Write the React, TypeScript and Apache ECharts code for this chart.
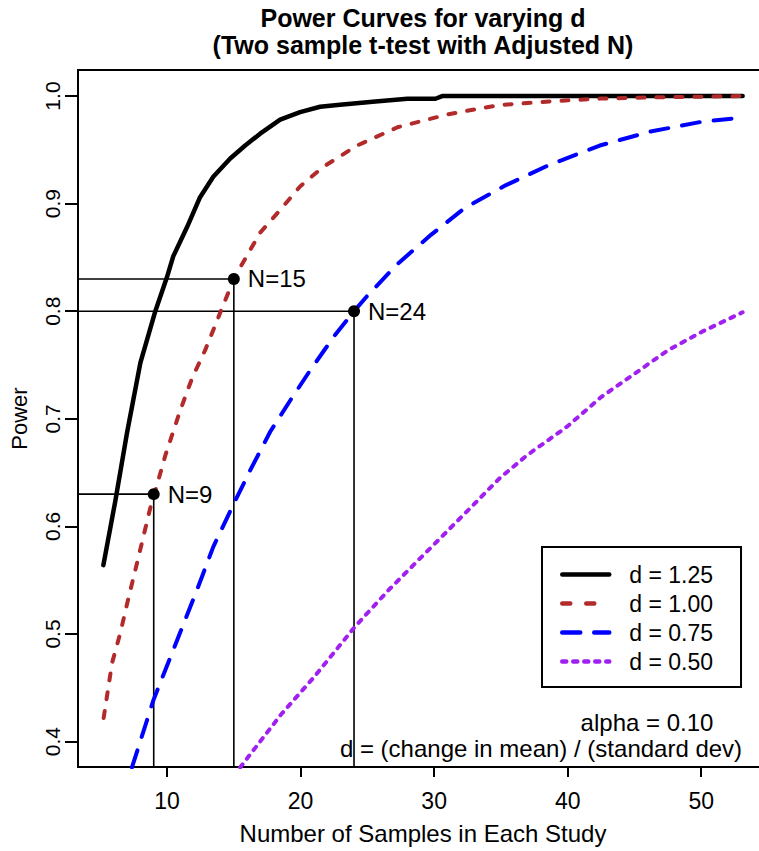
import React, { useEffect, useRef } from "react";
import * as echarts from "echarts";

// Axis extents (R style 4% expansion) and tick values
const X_MIN = 3.33;
const X_MAX = 55.0;
const Y_MIN = 0.3764;
const Y_MAX = 1.0242;
const xTicks = [10, 20, 30, 40, 50];
const yTicks = [0.4, 0.5, 0.6, 0.7, 0.8, 0.9, 1.0];

// Curve data: [samples per study, power]
const d125: number[][] = [
  [5.23, 0.564], [6.13, 0.624], [7.0, 0.687], [8.0, 0.752], [9.12, 0.8], [10.0, 0.832],
  [10.46, 0.851], [11.49, 0.878], [12.47, 0.906], [13.46, 0.925], [14.73, 0.942],
  [15.85, 0.954], [16.97, 0.965], [18.47, 0.978], [19.96, 0.985], [21.46, 0.99],
  [22.95, 0.992], [25.6, 0.995], [28, 0.9975], [30.1, 0.9975], [30.6, 1.0], [53.1, 1.0],
];
const d100: number[][] = [
  [5.25, 0.422], [5.88, 0.473], [6.5, 0.501], [7.1, 0.533], [7.75, 0.566],
  [8.74, 0.617], [9.05, 0.63], [9.87, 0.666], [10.99, 0.708], [11.88, 0.738],
  [12.86, 0.764], [13.83, 0.794], [15.03, 0.831], [16.97, 0.873], [18.46, 0.894],
  [19.96, 0.916], [21.68, 0.934], [22.95, 0.944], [24.23, 0.954], [27.26, 0.971],
  [31.03, 0.983], [34.85, 0.9916], [38.63, 0.995], [42.4, 0.9976], [47.46, 0.999],
  [53.1, 1.0],
];
const d075: number[][] = [
  [7.37, 0.376], [8.99, 0.439], [10.46, 0.485], [12.24, 0.541], [13.46, 0.581],
  [14.95, 0.62], [16.22, 0.652], [17.72, 0.688], [19.22, 0.717], [20.71, 0.745],
  [22.58, 0.778], [24.0, 0.8], [24.97, 0.814], [27.26, 0.844], [29.76, 0.871],
  [32.3, 0.896], [35.35, 0.917], [38.63, 0.936], [42.4, 0.954], [46.2, 0.967],
  [50.0, 0.976], [52.3, 0.979], [53.1, 0.98],
];
const d050: number[][] = [
  [15.47, 0.376], [18.52, 0.425], [21.01, 0.46], [24.08, 0.507], [26.6, 0.541],
  [29.89, 0.582], [32.38, 0.613], [34.92, 0.645], [36.94, 0.666], [39.98, 0.693],
  [42.48, 0.72], [45.02, 0.742], [47.54, 0.764], [50.07, 0.781], [53.1, 0.799],
];

const seriesNames = ["d = 1.25", "d = 1.00", "d = 0.75", "d = 0.50"];

// Highlighted sample sizes
const sampleN = [9, 15, 24];
const samplePower = [0.63, 0.83, 0.8];
const sampleLabels = ["N=9", "N=15", "N=24"];

const FONT = "Liberation Sans";

export default function App() {
  const ref = useRef<HTMLDivElement>(null);

  useEffect(() => {
    if (!ref.current) return;
    document.body.style.margin = "0";
    const chart = echarts.init(ref.current, undefined, { renderer: "svg" });

    const refLineSeries = sampleN.map((n, i) => ({
      type: "line",
      name: "ref" + i,
      data: [
        [X_MIN, samplePower[i]],
        [n, samplePower[i]],
        [n, Y_MIN],
      ],
      symbol: "none",
      silent: true,
      lineStyle: { color: "#000", width: 1.6, type: "solid" },
      z: 2,
    }));

    const curve = (name: string, data: number[][], color: string, width: number, type: any) => ({
      type: "line",
      name,
      data,
      symbol: "none",
      showSymbol: false,
      clip: true,
      lineStyle: { color, width, type, cap: "round", join: "round" },
      itemStyle: { color },
      z: 3,
    });

    const option: any = {
      animation: false,
      backgroundColor: "#fff",
      textStyle: { fontFamily: FONT, color: "#000" },
      title: {
        text: "Power Curves for varying d\n(Two sample t-test with Adjusted N)",
        left: "center",
        top: 4,
        padding: 0,
        textStyle: {
          fontFamily: FONT,
          fontSize: 25,
          fontWeight: "bold",
          lineHeight: 27,
          color: "#000",
        },
      },
      grid: {
        left: 78,
        top: 70,
        width: 690,
        height: 697,
        show: true,
        borderColor: "#000",
        borderWidth: 2,
        backgroundColor: "transparent",
      },
      xAxis: {
        type: "value",
        min: X_MIN,
        max: X_MAX,
        name: "Number of Samples in Each Study",
        nameLocation: "middle",
        nameGap: 54,
        nameTextStyle: { fontFamily: FONT, fontSize: 24, color: "#000" },
        axisLine: { show: false },
        splitLine: { show: false },
        axisTick: {
          show: true,
          length: 10,
          customValues: xTicks,
          lineStyle: { color: "#000", width: 2 },
        },
        axisLabel: {
          customValues: xTicks,
          fontFamily: FONT,
          fontSize: 23,
          color: "#000",
          margin: 22,
          formatter: (v: number) => String(v),
        },
      },
      yAxis: {
        type: "value",
        min: Y_MIN,
        max: Y_MAX,
        name: "Power",
        nameLocation: "middle",
        nameGap: 48,
        nameTextStyle: { fontFamily: FONT, fontSize: 22, color: "#000" },
        axisLine: { show: false },
        splitLine: { show: false },
        axisTick: {
          show: true,
          length: 13,
          customValues: yTicks,
          lineStyle: { color: "#000", width: 2 },
        },
        axisLabel: {
          customValues: yTicks,
          rotate: 90,
          fontFamily: FONT,
          fontSize: 21,
          color: "#000",
          margin: 15,
          formatter: (v: number) => v.toFixed(1),
        },
      },
      legend: {
        data: [
          { name: seriesNames[0] },
          { name: seriesNames[1], lineStyle: { type: [8, 16] } },
          { name: seriesNames[2] },
          { name: seriesNames[3] },
        ],
        orient: "vertical",
        left: 542,
        top: 547,
        padding: [16, 28, 14, 18],
        itemWidth: 47,
        itemHeight: 20,
        itemGap: 6,
        borderColor: "#000",
        borderWidth: 2,
        borderRadius: 0,
        backgroundColor: "#fff",
        itemStyle: { opacity: 0, borderWidth: 0 },
        lineStyle: { width: 4.5 },
        textStyle: {
          fontFamily: FONT,
          fontSize: 23,
          color: "#000",
          lineHeight: 22,
          padding: [0, 0, 0, 15],
        },
        selectedMode: false,
      },
      graphic: [
        {
          type: "text",
          x: 647,
          y: 722,
          z: 100,
          style: {
            text: "alpha = 0.10",
            fontFamily: FONT,
            fontSize: 24,
            fill: "#000",
            textAlign: "center",
            textVerticalAlign: "middle",
            verticalAlign: "middle",
          },
        },
        {
          type: "text",
          x: 541,
          y: 748,
          z: 100,
          style: {
            text: "d = (change in mean) / (standard dev)",
            fontFamily: FONT,
            fontSize: 24,
            fill: "#000",
            textAlign: "center",
            textVerticalAlign: "middle",
            verticalAlign: "middle",
          },
        },
      ],
      series: [
        ...refLineSeries,
        curve(seriesNames[0], d125, "#000000", 4.5, "solid"),
        curve(seriesNames[1], d100, "#B22A2A", 4, [7, 12]),
        curve(seriesNames[2], d075, "#0000FF", 4, [18, 14]),
        curve(seriesNames[3], d050, "#A020F0", 4, [4, 7]),
        {
          type: "scatter",
          name: "samples",
          data: sampleN.map((n, i) => ({ value: [n, samplePower[i]], name: sampleLabels[i] })),
          symbol: "circle",
          symbolSize: 12,
          itemStyle: { color: "#000", opacity: 1 },
          z: 5,
          label: {
            show: true,
            position: "right",
            distance: 8,
            formatter: (p: any) => p.name,
            fontFamily: FONT,
            fontSize: 24,
            color: "#000",
            opacity: 1,
            textBorderWidth: 0,
          },
        },
      ],
    };

    chart.setOption(option);
    return () => chart.dispose();
  }, []);

  return (
    <div
      style={{
        position: "fixed",
        left: 0,
        top: 0,
        width: 759,
        height: 851,
        overflow: "hidden",
        background: "#fff",
      }}
    >
      <div ref={ref} style={{ width: 846, height: 851 }} />
    </div>
  );
}
